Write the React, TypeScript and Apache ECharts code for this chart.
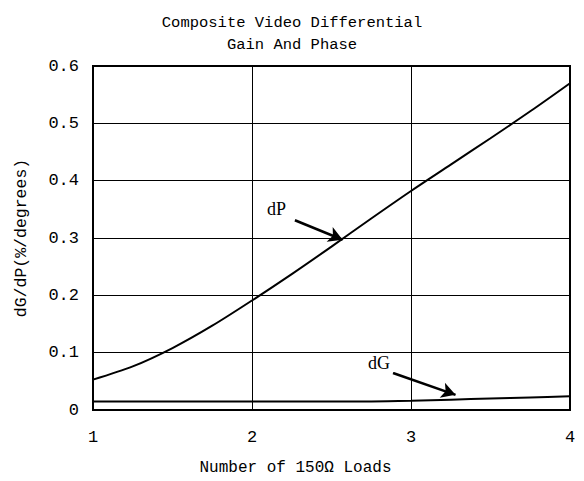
import React, { useEffect, useRef } from "react";
import * as echarts from "echarts";

const loads = [1, 1.25, 1.5, 1.75, 2, 2.25, 2.5, 2.75, 3, 3.25, 3.5, 3.75, 4];
const dP = [0.053, 0.076, 0.108, 0.147, 0.191, 0.237, 0.285, 0.334, 0.382, 0.428, 0.474, 0.521, 0.57];
const dG = [0.015, 0.015, 0.015, 0.015, 0.015, 0.015, 0.015, 0.015, 0.016, 0.018, 0.02, 0.022, 0.024];
const xTicks = [1, 2, 3, 4];
const yTicks = [0, 0.1, 0.2, 0.3, 0.4, 0.5, 0.6];

const FONT = "Liberation Mono";

export default function App() {
  const ref = useRef<HTMLDivElement>(null);
  useEffect(() => {
    const chart = echarts.init(ref.current!, null, { renderer: "svg" });
    chart.setOption({
      animation: false,
      backgroundColor: "#fff",
      title: {
        text: "Composite Video Differential\nGain And Phase",
        left: "center",
        top: 7,
        textStyle: { fontFamily: FONT, fontSize: 15.5, fontWeight: "normal", color: "#000", lineHeight: 22 },
      },
      grid: { left: 93, right: 14, top: 66, bottom: 71, show: true, borderColor: "#000", borderWidth: 2, backgroundColor: "transparent" },
      xAxis: {
        type: "value",
        min: xTicks[0],
        max: xTicks[xTicks.length - 1],
        interval: 1,
        axisLine: { show: false },
        axisTick: { show: false },
        splitLine: { show: true, lineStyle: { color: "#000", width: 1 } },
        axisLabel: { fontFamily: FONT, fontSize: 17, color: "#000", margin: 19 },
        name: "Number of 150Ω Loads",
        nameLocation: "middle",
        nameGap: 50,
        nameTextStyle: { fontFamily: FONT, fontSize: 16, color: "#000", padding: [0, 72, 0, 0] },
      },
      yAxis: {
        type: "value",
        min: yTicks[0],
        max: yTicks[yTicks.length - 1],
        interval: 0.1,
        axisLine: { show: false },
        axisTick: { show: false },
        splitLine: { show: true, lineStyle: { color: "#000", width: 1 } },
        axisLabel: {
          fontFamily: FONT,
          fontSize: 17,
          color: "#000",
          margin: 14,
          formatter: (v: number) => (v === 0 ? "0" : v.toFixed(1)),
        },
        name: "dG/dP(%/degrees)",
        nameLocation: "middle",
        nameGap: 63,
        nameTextStyle: { fontFamily: FONT, fontSize: 16.5, color: "#000" },
      },
      series: [
        {
          name: "dP",
          type: "line",
          data: loads.map((x, i) => [x, dP[i]]),
          smooth: 0.3,
          symbol: "none",
          lineStyle: { color: "#000", width: 2 },
          markLine: {
            silent: true,
            symbol: ["none", "arrow"],
            symbolSize: [12, 14],
            lineStyle: { color: "#000", width: 2.5, type: "solid" },
            label: { show: false },
            data: [[{ coord: [2.27, 0.331] }, { coord: [2.57, 0.297] }]],
          },
        },
        {
          name: "dG",
          type: "line",
          data: loads.map((x, i) => [x, dG[i]]),
          smooth: 0.3,
          symbol: "none",
          lineStyle: { color: "#000", width: 2 },
          markLine: {
            silent: true,
            symbol: ["none", "arrow"],
            symbolSize: [12, 14],
            lineStyle: { color: "#000", width: 2.5, type: "solid" },
            label: { show: false },
            data: [[{ coord: [2.887, 0.0645] }, { coord: [3.28, 0.0265] }]],
          },
        },
      ],
      graphic: [
        {
          type: "text",
          left: 267,
          top: 200,
          style: { text: "dP", font: "18px Liberation Serif", fill: "#000" },
        },
        {
          type: "text",
          left: 363,
          top: 354,
          z: 100,
          style: {
            text: "dG",
            font: "18px Liberation Serif",
            fill: "#000",
            backgroundColor: "#fff",
            padding: [0, 8, 0, 5],
          },
        },
      ],
    });
    return () => chart.dispose();
  }, []);
  return <div ref={ref} style={{ position: "fixed", left: 0, top: 0, width: 584, height: 481 }} />;
}
